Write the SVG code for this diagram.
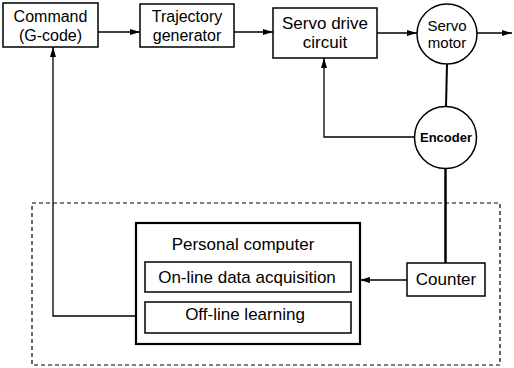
<svg xmlns="http://www.w3.org/2000/svg" width="514" height="368" viewBox="0 0 514 368">
<defs>
<style>
.box{fill:#fff;stroke:#000;stroke-width:1.5}
.t{font-family:"Liberation Sans",Arial,sans-serif;font-size:17px;fill:#000;text-anchor:middle}
.t2{font-size:16px}
.ln{fill:none;stroke:#000;stroke-width:1.3}
</style>
<marker id="ah" viewBox="0 0 10 6" refX="10" refY="3" markerWidth="10" markerHeight="6" markerUnits="userSpaceOnUse" orient="auto">
<path d="M0,0 L10,3 L0,6 Z" fill="#000"/>
</marker>
</defs>
<rect width="514" height="368" fill="#fff"/>
<rect x="32" y="203" width="468" height="162" fill="none" stroke="#000" stroke-width="1.2" stroke-dasharray="4 3"/>
<g id="connectors">
<line class="ln" x1="98" y1="32" x2="140" y2="32" marker-end="url(#ah)"/>
<line class="ln" x1="234" y1="32" x2="273" y2="32" marker-end="url(#ah)"/>
<line class="ln" x1="377" y1="33" x2="417" y2="33" marker-end="url(#ah)"/>
<line class="ln" x1="477" y1="33" x2="512" y2="33" marker-end="url(#ah)"/>
<line x1="447" y1="64" x2="446" y2="107" stroke="#000" stroke-width="2"/>
<line x1="445.5" y1="168" x2="445.5" y2="263" stroke="#000" stroke-width="2.5"/>
<polyline class="ln" points="414.5,137 324,137 324,58" marker-end="url(#ah)"/>
<line class="ln" x1="407" y1="280" x2="360" y2="280" marker-end="url(#ah)"/>
<polyline class="ln" points="145,316 53,316 53,47" marker-end="url(#ah)"/>
</g>
<g id="command">
<rect class="box" x="3" y="3" width="95" height="44"/>
<text class="t t2" x="50.5" y="22">Command</text>
<text class="t t2" x="50.5" y="41">(G-code)</text>
</g>
<g id="trajectory">
<rect class="box" x="140" y="4" width="94" height="43"/>
<text class="t t2" x="187" y="22">Trajectory</text>
<text class="t t2" x="187" y="41">generator</text>
</g>
<g id="servo-drive">
<rect class="box" x="273" y="8" width="104" height="50"/>
<text class="t" x="325" y="29">Servo drive</text>
<text class="t" x="325" y="48">circuit</text>
</g>
<g id="servo-motor">
<circle class="box" cx="447" cy="34" r="30"/>
<text class="t" x="447" y="31" style="font-size:15px">Servo</text>
<text class="t" x="447" y="48" style="font-size:15px">motor</text>
</g>
<g id="encoder">
<circle class="box" cx="445.5" cy="137.5" r="31"/>
<text class="t" x="446" y="142" style="font-size:13px;font-weight:bold">Encoder</text>
</g>
<g id="counter">
<rect class="box" x="407" y="263" width="78" height="33"/>
<text class="t" x="446" y="285">Counter</text>
</g>
<g id="personal-computer">
<rect x="136" y="223" width="224" height="121" fill="#fff" stroke="#000" stroke-width="2.2"/>
<text class="t" x="243" y="250">Personal computer</text>
</g>
<g id="online">
<rect class="box" x="145" y="262" width="206" height="30"/>
<text class="t" x="247" y="283">On-line data acquisition</text>
</g>
<g id="offline">
<rect class="box" x="145" y="302" width="206" height="31"/>
<text class="t" x="245" y="320">Off-line learning</text>
</g>
</svg>
